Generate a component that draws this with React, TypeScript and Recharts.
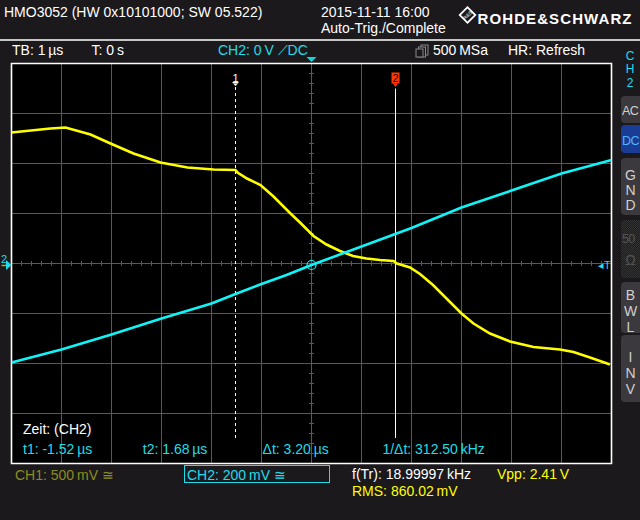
import {
  CartesianGrid,
  Line,
  LineChart,
  ReferenceArea,
  ReferenceDot,
  ReferenceLine,
  XAxis,
  YAxis,
} from "recharts";

// CH1 (yellow), time in µs, level in divisions
const CH1_TIME = [-6, -5.22, -4.92, -4.42, -4.02, -3.56, -3.02, -2.48, -1.96, -1.52, -1.48, -1.29, -1.02, -0.76, -0.42, -0.23, 0.04, 0.3, 0.57, 0.83, 1.1, 1.37, 1.64, 1.71, 1.97, 2.17, 2.43, 2.7, 3.0, 3.24, 3.57, 3.97, 4.44, 4.97, 5.24, 5.57, 5.97];
const CH1_DIV = [2.62, 2.7, 2.72, 2.58, 2.4, 2.2, 2.02, 1.92, 1.88, 1.87, 1.82, 1.7, 1.57, 1.34, 1.0, 0.82, 0.55, 0.38, 0.25, 0.15, 0.1, 0.07, 0.05, 0.0, -0.08, -0.21, -0.43, -0.7, -1.0, -1.2, -1.4, -1.56, -1.67, -1.72, -1.77, -1.88, -2.02];

// CH2 (cyan)
const CH2_TIME = [-6, -5, -4, -3, -2, -1.52, -1, -0.5, 0, 1, 2, 3, 4, 5, 6];
const CH2_DIV = [-1.98, -1.72, -1.42, -1.1, -0.8, -0.61, -0.41, -0.23, -0.03, 0.34, 0.71, 1.12, 1.46, 1.8, 2.07];

const X_TICKS = [-6, -5, -4, -3, -2, -1, 0, 1, 2, 3, 4, 5, 6];
const Y_TICKS = [-4, -3, -2, -1, 0, 1, 2, 3, 4];

const CURSOR_T1 = -1.52;
const CURSOR_T2 = 1.68;

const MEAS = ["t1: -1.52\u2009µs", "t2: 1.68\u2009µs", "Δt: 3.20\u2009µs", "1/Δt: 312.50\u2009kHz"];

const BG = "#1c191d";
const GRID = "#595959";
const YEL = "#ffff00";
const CYAN = "#10f4f8";
const CYAN_TXT = "#1fdcea";
const FONT = "'Liberation Sans', Arial, sans-serif";

const ch1Data = CH1_TIME.map((t, i) => ({ t, v: CH1_DIV[i] }));
const ch2Data = CH2_TIME.map((t, i) => ({ t, v: CH2_DIV[i] }));

// minor ticks on the centre cross, 5 per division
const minorX = Array.from({ length: 61 }, (_, i) => Math.round((-6 + i * 0.2) * 10) / 10).filter((v) => !Number.isInteger(v));
const minorY = Array.from({ length: 41 }, (_, i) => Math.round((-4 + i * 0.2) * 10) / 10).filter((v) => !Number.isInteger(v));

const Cursor1Mark = (p: any) => (
  <g>
    <text x={p.cx} y={p.cy + 3.5} textAnchor="middle" fill="#fff" fontSize={11} fontFamily={FONT}>1</text>
    <rect x={p.cx - 3} y={p.cy + 4} width={6} height={1.2} fill="#fff" />
    <path d={`M${p.cx - 2.5},${p.cy + 5.5} L${p.cx + 2.5},${p.cy + 5.5} L${p.cx},${p.cy + 8} Z`} fill="#fff" />
  </g>
);

const Cursor2Mark = (p: any) => (
  <g>
    <rect x={p.cx - 4} y={p.cy - 5.5} width={8} height={11} fill="#ff3a00" />
    <text x={p.cx} y={p.cy + 4} textAnchor="middle" fill="#3a0000" fontSize={11} fontFamily={FONT}>2</text>
    <path d={`M${p.cx - 2.5},${p.cy + 5.5} L${p.cx + 2.5},${p.cy + 5.5} L${p.cx},${p.cy + 9} Z`} fill="#ff3a00" />
  </g>
);

const TrigTop = (p: any) => (
  <path d={`M${p.cx - 5},${p.cy - 6.5} L${p.cx + 5},${p.cy - 6.5} L${p.cx},${p.cy - 1.5} Z`} fill="#18d0d8" />
);

const BUTTONS = [
  { lines: ["AC"], top: 96, h: 27, bg: "#3b393d", fg: "#d0d0d0", base: [115] },
  { lines: ["DC"], top: 125, h: 28, bg: "#1b3c95", fg: "#4fb4ff", base: [144.5] },
  { lines: ["G", "N", "D"], top: 158, h: 57, bg: "#3b393d", fg: "#d0d0d0", base: [180, 195, 210] },
  { lines: ["50", "Ω"], top: 220, h: 58, bg: "hatch", fg: "#555", base: [243, 265] },
  { lines: ["B", "W", "L"], top: 282, h: 51, bg: "#3b393d", fg: "#d0d0d0", base: [300, 316, 332] },
  { lines: ["I", "N", "V"], top: 335, h: 67, bg: "#3b393d", fg: "#d0d0d0", base: [362, 378, 394] },
];

export default function App() {
  return (
    <div style={{ position: "absolute", left: 0, top: 0, width: 640, height: 520, background: BG, overflow: "hidden", fontFamily: FONT }}>
      {BUTTONS.map((b) => (
        <div
          key={b.lines.join("")}
          style={{
            position: "absolute",
            left: 621,
            top: b.top,
            width: 19,
            height: b.h,
            borderRadius: "4px 0 0 4px",
            background:
              b.bg === "hatch"
                ? "repeating-conic-gradient(#333 0 25%, #1d1d1d 0 50%) 0 0/2px 2px"
                : b.bg,
          }}
        />
      ))}
      <div style={{ position: "absolute", left: 0, top: 0 }}>
        <LineChart width={640} height={520} margin={{ top: 63.5, right: 28.5, bottom: 56.5, left: 11.5 }}>
          <CartesianGrid stroke={GRID} fill="#000" fillOpacity={1} verticalValues={X_TICKS} horizontalValues={Y_TICKS} />
          <XAxis type="number" dataKey="t" domain={[-6, 6]} ticks={X_TICKS} hide allowDataOverflow />
          <YAxis type="number" dataKey="v" domain={[-4, 4]} ticks={Y_TICKS} hide allowDataOverflow />
          {minorX.map((t) => (
            <ReferenceLine key={"mx" + t} segment={[{ x: t, y: -0.05 }, { x: t, y: 0.05 }]} stroke={GRID} />
          ))}
          {minorY.map((v) => (
            <ReferenceLine key={"my" + v} segment={[{ x: -0.05, y: v }, { x: 0.05, y: v }]} stroke={GRID} />
          ))}
          <ReferenceLine segment={[{ x: CURSOR_T1, y: 3.53 }, { x: CURSOR_T1, y: -3.49 }]} stroke="#fff" strokeDasharray="3 3" />
          <ReferenceLine segment={[{ x: CURSOR_T2, y: 3.5 }, { x: CURSOR_T2, y: -3.49 }]} stroke="#fff" />
          <ReferenceDot x={CURSOR_T1} y={3.71} shape={Cursor1Mark} />
          <ReferenceDot x={CURSOR_T2} y={3.71} shape={Cursor2Mark} />
          <Line data={ch1Data} dataKey="v" type="linear" stroke={YEL} strokeWidth={2.6} dot={false} isAnimationActive={false} />
          <Line data={ch2Data} dataKey="v" type="linear" stroke={CYAN} strokeWidth={2.6} dot={false} isAnimationActive={false} />
          <ReferenceDot x={0} y={-0.03} r={4.5} fill="none" stroke={CYAN} strokeWidth={1.2} />
          <ReferenceDot x={0} y={4} ifOverflow="visible" shape={TrigTop} />
          <ReferenceArea x1={-6} x2={6} y1={-4} y2={4} fill="none" stroke="#fff" strokeWidth={1.6} ifOverflow="visible" />
        </LineChart>
      </div>
      <svg width={640} height={520} style={{ position: "absolute", left: 0, top: 0, pointerEvents: "none" }} fontFamily={FONT} fontSize={14}>
        {/* header */}
        <text x={4} y={17} fill="#fff">HMO3052 (HW 0x10101000; SW 05.522)</text>
        <text x={321} y={17} fill="#fff">2015-11-11 16:00</text>
        <text x={321} y={33} fill="#fff">Auto-Trig./Complete</text>
        <g transform="translate(467.5,15) rotate(45)">
          <rect x={-5.5} y={-5.5} width={11} height={11} fill="none" stroke="#fff" strokeWidth={1.8} />
        </g>
        <text x={467.5} y={17} fill="#fff" fontSize={5} textAnchor="middle" transform="rotate(-45 467.5 15)">R&amp;S</text>
        <text x={477.5} y={24} fill="#fff" fontSize={15} fontWeight={700} letterSpacing={1.1}>{"ROHDE&SCHWARZ"}</text>
        <line x1={0} x2={640} y1={40} y2={40} stroke="#fff" strokeWidth={1.5} />

        {/* status row */}
        <text x={12} y={55} fill="#fff">TB: 1{"\u2009"}µs</text>
        <text x={91.5} y={55} fill="#fff">T: 0{"\u2009"}s</text>
        <text x={218} y={55} fill={CYAN_TXT}>CH2: 0{"\u2009"}V ⟋DC</text>
        <rect x={421} y={45} width={7} height={10} fill="none" stroke="#888" />
        <rect x={418.5} y={47} width={7} height={10} fill={BG} stroke="#888" />
        <rect x={416} y={49} width={7} height={8} fill={BG} stroke="#888" />
        <text x={433} y={55} fill="#fff">500{"\u2009"}MSa</text>
        <text x={508} y={55} fill="#fff">HR: Refresh</text>

        {/* channel side panel */}
        <text x={630} y={60} fill={CYAN_TXT} fontSize={12} textAnchor="middle">C</text>
        <text x={630} y={73} fill={CYAN_TXT} fontSize={12} textAnchor="middle">H</text>
        <text x={630} y={86.5} fill={CYAN_TXT} fontSize={12} textAnchor="middle">2</text>
        {BUTTONS.map((b) =>
          b.lines.map((l, i) =>
            l.length > 1 ? (
              <text key={b.lines.join("") + i} x={622} y={b.base[i]} fill={b.fg} fontSize={12.5} letterSpacing={-0.6}>
                {l}
              </text>
            ) : (
              <text key={b.lines.join("") + i} x={630.5} y={b.base[i]} fill={b.fg} textAnchor="middle">
                {l}
              </text>
            )
          )
        )}

        {/* markers outside / on plot border */}
        <line x1={1.5} x2={8} y1={265.5} y2={265.5} stroke="#c9a800" strokeWidth={1.5} />
        <text x={1} y={263} fill={CYAN_TXT} fontSize={11}>2</text>
        <path d="M6,260 L6,270 L11.5,265 Z" fill={CYAN_TXT} />
        <text x={598} y={269} fill={CYAN_TXT} fontSize={11}>◂T</text>

        {/* cursor readout */}
        <text x={23} y={434} fill="#fff">Zeit: (CH2)</text>
        {MEAS.map((m, i) => (
          <text key={m} x={23 + i * 119.8} y={454} fill={CYAN_TXT}>{m}</text>
        ))}

        {/* bottom info */}
        <text x={15} y={479.5} fill="#8c8c22">CH1: 500{"\u2009"}mV ≅</text>
        <rect x={184.5} y={465.5} width={145} height={17} fill="none" stroke={CYAN_TXT} strokeWidth={1} />
        <text x={187} y={479.5} fill={CYAN_TXT}>CH2: 200{"\u2009"}mV ≅</text>
        <text x={352} y={478.5} fill="#fff">f(Tr): 18.99997{"\u2009"}kHz</text>
        <text x={497} y={478.5} fill={YEL}>Vpp: 2.41{"\u2009"}V</text>
        <text x={352} y={496} fill={YEL}>RMS: 860.02{"\u2009"}mV</text>
      </svg>
    </div>
  );
}
